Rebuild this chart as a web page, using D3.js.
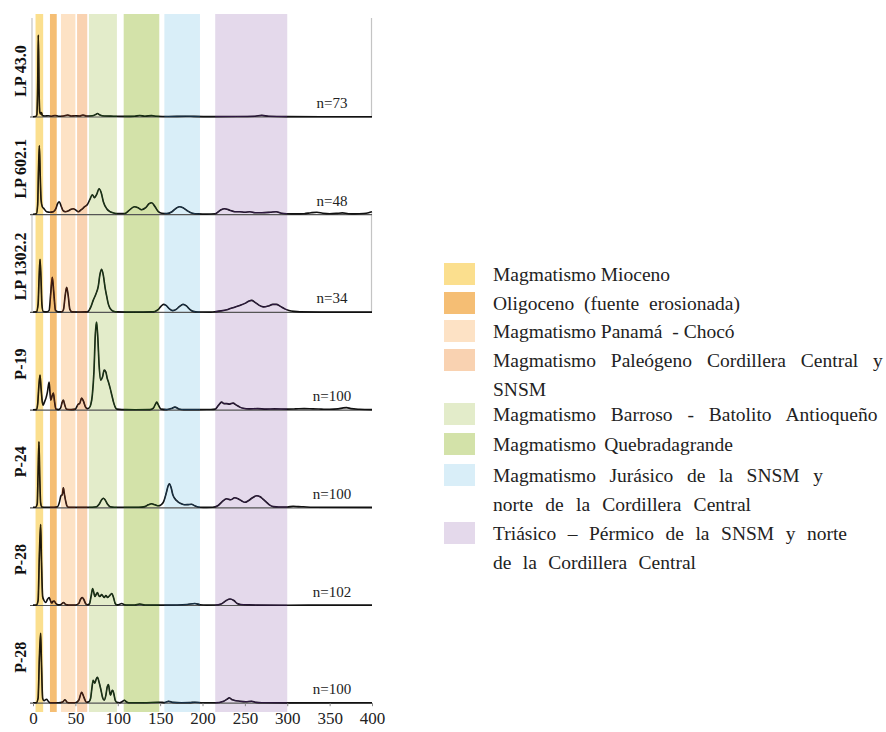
<!DOCTYPE html>
<html><head><meta charset="utf-8">
<script src="https://cdn.jsdelivr.net/npm/d3@7"></script>
<style>body{margin:0;background:#fff}svg{display:block}</style>
</head><body>
<svg id="c" width="886" height="732"></svg>
<script>
// ---- data ----
const sampleNames = ["LP 43.0","LP 602.1","LP 1302.2","P-19","P-24","P-28","P-28"];
const sampleN = ["n=73","n=48","n=34","n=100","n=100","n=102","n=100"];
const xTicks = [0,50,100,150,200,250,300,350,400];

const bandNames = ["Magmatismo Mioceno","Oligoceno (fuente erosionada)","Magmatismo Panamá  - Chocó",
  "Magmatismo Paleógeno Cordillera Central y|SNSM","Magmatismo Barroso - Batolito Antioqueño",
  "Magmatismo Quebradagrande","Magmatismo Jurásico de la SNSM y|norte de la Cordillera Central",
  "Triásico – Pérmico de la SNSM y norte|de la Cordillera Central"];
const bandStart = [3,20,33,52,66,107,155,215];
const bandEnd   = [12,28,50,64,99,149,197,300];

const lp430 = [[0,0.3],[3,0.5],[4.5,2],[5.5,30],[6.3,82],[7.2,25],[8,5],[9,3],[10,4.5],[11,1.5],[14,1],[18,1.2],[22,0.8],[26,1.5],[30,0.8],[36,1],[41,2],[45,1],[50,1.2],[55,1],[59,2],[63,1],[70,1.2],[74,2.5],[76,3.5],[79,2],[84,1],[95,0.8],[110,0.6],[120,0.8],[126,1.5],[132,0.8],[140,1.4],[146,0.7],[160,0.5],[180,0.8],[190,0.6],[210,0.4],[240,0.5],[262,0.8],[270,1.6],[278,0.7],[300,0.4],[340,0.3],[400,0.3]];
const lp6021 = [[0,0.5],[4,1],[5.5,10],[6.5,45],[7.5,69],[8.5,40],[9.5,15],[11,8],[13,6],[16,3],[20,2.5],[24,3],[27,6],[29,11],[31,13],[33,9],[35.5,4],[38,3],[42,4],[45,5.5],[47.5,6],[50,5],[53.5,3],[57,5],[61,8],[64,10],[67,15],[70,20],[72.5,17],[75,20],[78,26],[80.5,22],[83,13],[87,6],[91,3],[95,1.8],[100,1.2],[108,1.2],[113,4],[119.5,8],[124,7],[128,5],[133,7],[137,11],[140,12],[144,8],[148,3],[152,1.5],[158,1.2],[164,3],[169,6.5],[173,8],[177,7],[182,4],[188,1.5],[195,0.8],[205,0.6],[215,1],[221,4.5],[226,6],[232,4.5],[238,3],[244,3],[250,2.5],[256,3],[262,2],[270,2],[280,2.5],[287,3],[293,1.5],[300,1],[310,0.8],[320,1],[328,2],[335,2.5],[342,1.5],[350,1],[358,1.3],[365,1.8],[372,1],[380,0.8],[390,1.2],[396,2],[400,3]];
const lp13022 = [[0,0.4],[4,0.5],[6,8],[7.2,35],[8.3,53],[9.4,35],[10.5,8],[12,1],[16,0.5],[19,2],[21,20],[22.8,35],[24.5,20],[26.5,2],[30,0.5],[34,0.6],[36,3],[38,17],[39.7,25],[41.5,17],[43.5,3],[46,0.5],[55,0.4],[62,0.5],[65,1],[68,5],[71,12],[74,18],[77,26],[79,38],[81,43],[83,37],[85,25],[87,16],[89,8],[91,4],[94,1.5],[100,0.5],[120,0.3],[140,0.5],[144,1],[148,3],[151,6],[154,8],[157,7],[161,3.5],[165,1.8],[169,3],[173,6],[177,8],[181,6.5],[185,3],[189,1],[195,0.4],[210,0.3],[216,0.8],[222,1.5],[230,3],[237,5],[244,7],[250,9],[255,11.5],[258,12],[262,10],[267,7],[272,5.5],[278,6.5],[283,8],[287,8],[292,6],[297,3.5],[302,2],[308,1],[315,0.5],[340,0.3],[400,0.3]];
const p19 = [[0,0.3],[4,0.5],[5.5,6],[7,25],[8.3,35],[9.5,22],[11,8],[12,5],[13.5,8],[15.3,12],[17,18],[19,28],[20,18],[21,10],[22.5,14],[24,17],[25.5,8],[27,1],[30,0.5],[32.5,2],[34.5,8],[35.8,10],[37.5,5],[39.5,0.8],[45,0.5],[50,1],[52,4],[53.5,6],[55,6.5],[57.4,12],[59.5,9],[62,3],[64,1.5],[66,2],[68,5],[70,15],[72,40],[73.5,75],[75,88],[76.5,72],[78,45],[80,30],[82,33],[84,40],[86,38],[87.5,32],[89,28],[91,22],[93,15],[95,8],[97,3],[99,1],[105,0.5],[120,0.4],[138,0.5],[142,2],[144.5,6],[146,8],[148,5],[151,1],[158,0.5],[163,1.5],[167.5,3],[172,1.2],[178,0.5],[195,0.5],[210,0.6],[215,1],[219,5],[222.5,8],[225.5,6.5],[228.5,6.5],[232,6],[236,7],[240,5],[244,3],[248,1.8],[255,1.2],[265,1.5],[275,1],[285,1.2],[300,1],[310,1.2],[320,1.5],[330,1.2],[340,1],[350,0.8],[360,1.2],[366,2.2],[370,2.5],[375,1.5],[385,0.8],[392,0.6],[400,0.5]];
const p24 = [[0,0.5],[3,0.5],[5,4],[6,35],[7,66],[8,30],[9,5],[10.5,0.8],[15,0.5],[25,0.5],[29,1],[31,5],[33,12],[34.5,13],[35.8,20],[37,14],[38.5,7],[40,2],[42,0.6],[50,0.5],[60,0.5],[70,0.6],[75,1],[78,3.5],[81,8],[83,9.5],[85,8],[88,3.5],[91,1],[96,0.5],[110,0.5],[125,0.6],[132,1.2],[136,3],[140,4],[144,3],[148,2],[151,3],[154,6],[157,14],[159.5,22],[161,24],[163,20],[165,13],[167.5,9],[171,6],[175,4],[179,3],[183,3.2],[187,3.5],[191,2],[197,0.6],[205,0.4],[212,0.5],[218,2],[223,6],[228.5,9],[233,8],[238,10],[242,9],[246,7],[250,5.5],[254,7],[259,10],[264,12],[268,11],[271,9],[275,6],[279,3],[283.5,1.2],[290,0.8],[300,0.8],[307,1.5],[313,1.2],[319,1],[330,0.6],[400,0.4]];
const p28a = [[0,0.4],[4,0.5],[6,5],[7.5,50],[9,81],[10,45],[11.4,9],[13,5],[15,3],[17,6],[19,8],[20.5,5],[22,2.5],[23.5,4],[25,4.5],[27,2],[30,0.6],[33,1],[36,3],[38.5,1],[42,0.5],[50,0.5],[54,2],[56,6],[58,8],[60,6],[62,2],[64,0.8],[66.5,1.5],[68.5,9],[70.4,17],[72,12],[73,9],[74.5,11],[76,13],[77.5,10],[79,9],[81,11],[82.5,9.5],[84,8],[86,10],[88,8],[90,9.5],[93,12],[95,8],[97,2],[99,0.6],[101,0.8],[104.6,2],[108,0.8],[112,0.5],[120,0.5],[126,1.5],[132,0.5],[150,0.4],[170,0.5],[182,1],[191,2],[197,0.8],[205,0.4],[215,0.5],[222,1.5],[228,5],[232.5,6.5],[237,5],[241,2],[245,1],[255,0.6],[265,0.4],[300,0.3],[350,0.4],[400,0.4]];
const p28b = [[0,0.4],[4,0.5],[6,5],[7.5,45],[9,70],[10,40],[11.4,5],[13,2.5],[16,4],[18,2],[20,0.5],[30,0.4],[35,1.2],[37.8,3.5],[40,1],[42,0.4],[50,0.5],[54,3],[57.4,11],[60,6],[63,1],[66,1.5],[68,5],[69.5,15],[71,23],[73,20],[74.5,24],[76,26],[78,21],[80,14],[82,6],[84,3],[86,8],[87.5,16],[89,18.7],[90.5,11],[91.5,8],[93,12],[94,13],[95.5,9],[97,3],[99,0.8],[102,0.5],[105,1.5],[107.8,3],[110,1.5],[113,0.5],[130,0.4],[150,1],[155,0.6],[160,2],[165,0.8],[175,0.5],[185,0.6],[191,1],[200,0.5],[215,0.4],[225,2],[229,4],[231.6,5.5],[234,4],[237,3],[244,2],[251,1.5],[258,2],[263,0.8],[270,0.5],[300,0.3],[400,0.4]];
const series = [lp430, lp6021, lp13022, p19, p24, p28a, p28b];

// ---- styles ----
const bandFill = ["#fbdf8e","#f5be74","#fde2c5","#f9d2b1","#e3ecca","#d3e2a9","#d9eef8","#e4d9eb"];
const lineTint = ["#3a2a00","#7a2a10","#7a2a10","#7a2a10","#1f5a18","#1f5a18","#1c4e7a","#4a1f6a"];
// approximate right edge of each legend text line (layout)
const legendLineEnd = [[669],[740],[732],[884,553],[880],[733],[823,751],[847,696]];
const serif = "'Liberation Serif','Times New Roman',serif";

const svg = d3.select("#c");
svg.append("rect").attr("width",886).attr("height",732).attr("fill","#fff");

const x = d3.scaleLinear().domain([0,400]).range([33,372]);
const base = d3.scaleLinear().domain([0,6]).range([117,703.2]);
const bandTop = 14, bandBottom = 712;

// bands
const defs = svg.append("defs");
bandStart.forEach((s,i)=>{
  svg.append("rect").attr("x",x(s)).attr("y",bandTop).attr("width",x(bandEnd[i])-x(s))
    .attr("height",bandBottom-bandTop).attr("fill",bandFill[i]);
  defs.append("clipPath").attr("id","cb"+i).append("rect")
    .attr("x",x(s)).attr("y",0).attr("width",x(bandEnd[i])-x(s)).attr("height",732);
});

// frames for panels 1 and 3
[[0,18],[2,213.5]].forEach(([pi,top])=>{
  const b = base(pi);
  [x(0)-1, x(400)-0.5].forEach(xx=>{
    svg.append("line").attr("x1",xx).attr("x2",xx).attr("y1",top).attr("y2",b)
      .attr("stroke","#c4c4c4").attr("stroke-width",1.2);
  });
});

series.forEach((data,i)=>{
  const b = base(i);
  const y = d3.scaleLinear().domain([0,100]).range([b,b-100]);
  const line = d3.line().x(d=>x(d[0])).y(d=>y(d[1])).curve(d3.curveMonotoneX);
  svg.append("line").attr("x1",x(0)-3).attr("x2",x(400)).attr("y1",b).attr("y2",b)
    .attr("stroke","#555").attr("stroke-width",1.2);
  svg.append("path").attr("d",line(data)).attr("fill","none").attr("stroke","#111").attr("stroke-width",1.6);
  bandStart.forEach((s,k)=>{
    svg.append("path").attr("d",line(data)).attr("fill","none").attr("stroke",lineTint[k])
      .attr("stroke-width",1.0).attr("clip-path","url(#cb"+k+")").attr("opacity",0.6);
  });
  svg.append("text").attr("transform",`translate(${20},${b-46}) rotate(-90)`)
    .attr("text-anchor","middle").attr("dominant-baseline","central")
    .attr("font-family",serif).attr("font-weight","bold").attr("font-size",16).attr("fill","#111")
    .text(sampleNames[i]);
  svg.append("text").attr("x",332).attr("y",b-14).attr("text-anchor","middle")
    .attr("dominant-baseline","central").attr("font-family",serif).attr("font-size",15).attr("fill","#222")
    .text(sampleN[i]);
});

// axis
const axB = base(6);
const ax = svg.append("g").attr("transform",`translate(0,${axB})`)
  .call(d3.axisBottom(x).tickValues(xTicks).tickSize(3).tickPadding(6).tickFormat(d3.format("d")));
ax.select(".domain").remove();
ax.selectAll("line").attr("stroke","#888");
ax.selectAll("text").attr("font-family",serif).attr("font-size",17).attr("fill","#222");

// legend
const legRowY = [274,303,331,360,414,444,475,533];
const legX = 493;
bandNames.forEach((nm,i)=>{
  const cy = legRowY[i];
  svg.append("rect").attr("x",444).attr("y",cy-11).attr("width",31).attr("height",22).attr("fill",bandFill[i]);
  nm.split("|").forEach((ln,j)=>{
    const t = svg.append("text").attr("x",legX).attr("y",cy+j*29).attr("dominant-baseline","central")
      .attr("font-family",serif).attr("font-size",19.5).attr("fill","#222")
      .style("white-space","pre").text(ln);
    const natural = t.node().getComputedTextLength();
    const spaces = (ln.match(/ /g)||[]).length;
    const target = legendLineEnd[i][j] - legX;
    if (spaces > 0) {
      const ws = Math.min(10, Math.max(0, (target - natural) / spaces));
      t.attr("word-spacing", ws.toFixed(2));
    }
  });
});
</script>
</body></html>
